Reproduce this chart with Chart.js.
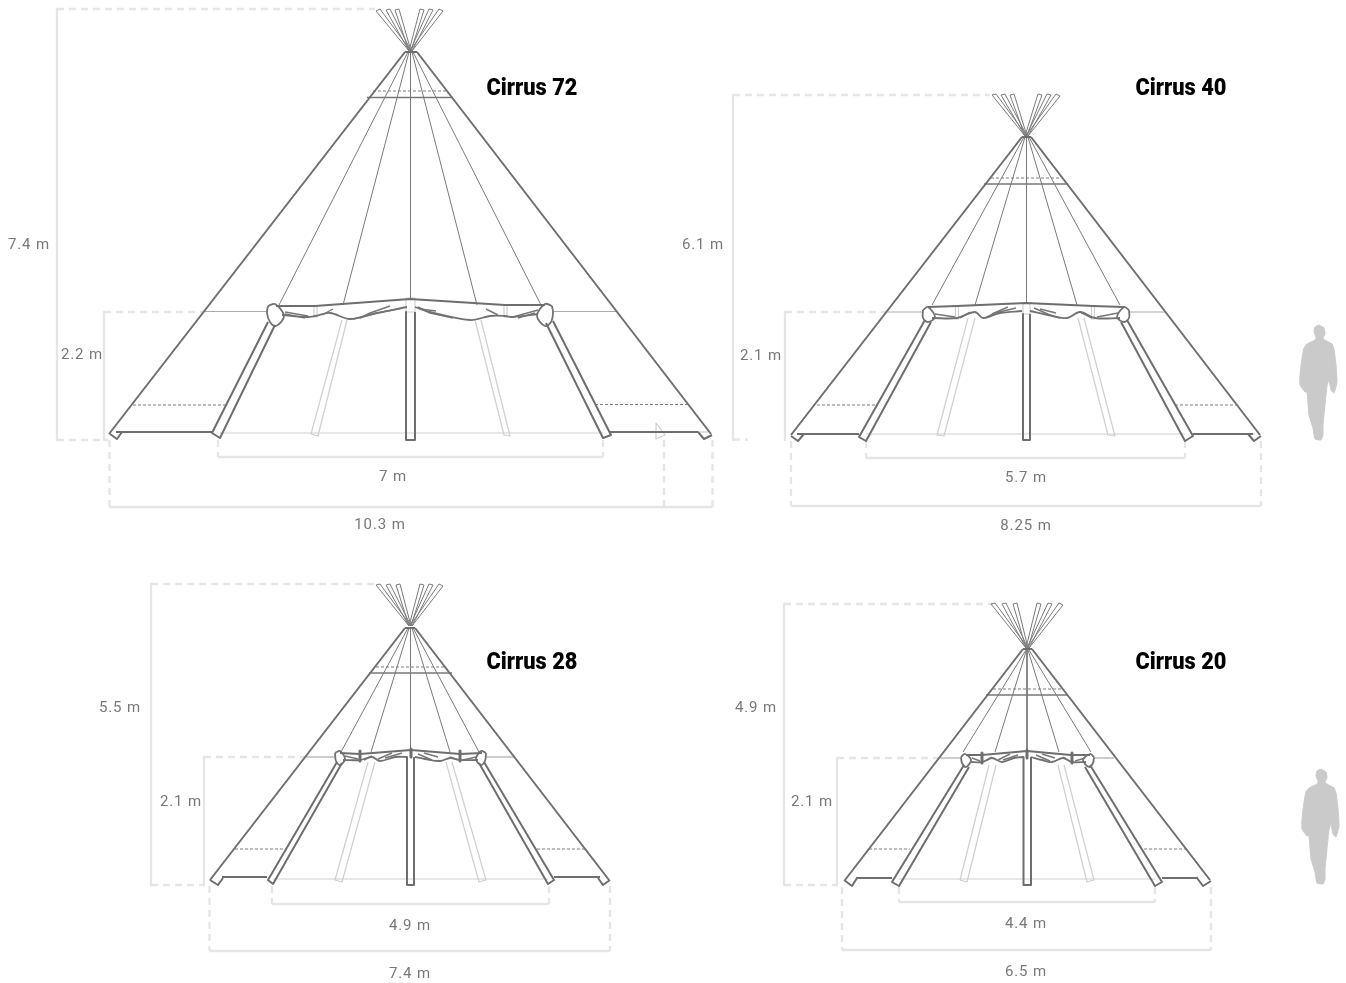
<!DOCTYPE html>
<html>
<head>
<meta charset="utf-8">
<title>Cirrus tents</title>
<script src="https://cdn.jsdelivr.net/npm/chart.js@4"></script>
<style>
html, body { margin: 0; padding: 0; background: #fff; }
canvas { display: block; }
</style>
</head>
<body>
<canvas id="canvas" width="1346" height="983"></canvas>
<script>

// labels
var titleTexts = ["Cirrus 72", "Cirrus 40", "Cirrus 28", "Cirrus 20"];
var titleX = [532, 1181, 532, 1181];
var titleY = [89, 89, 663, 663];
var labelTexts = ["7.4 m", "2.2 m", "7 m", "10.3 m", "6.1 m", "2.1 m", "5.7 m", "8.25 m", "5.5 m", "2.1 m", "4.9 m", "7.4 m", "4.9 m", "2.1 m", "4.4 m", "6.5 m"];
var labelX = [29, 82, 393, 380, 703, 761, 1026, 1026, 120, 181, 410, 410, 756, 812, 1026, 1026];
var labelY = [245, 355, 477, 525, 245, 356, 478, 526, 708, 802, 926, 974, 708, 802, 924, 972];

// Cirrus 72
var c72Outline = [
  [405,52,417,52], [405,52,109,434], [417,52,711,434],
  [116,432,212,432], [610,432,698,432],
  [110,434,117,439,122,432], [698,432,704,439,712,435],
  [268,322,212,433,220,438,275,325], [546,323,603,438,611,435,553,321],
  [406,312,406,440,415,440,415,312],
  [276,306,315,306,410,299,505,305,545,305]
];
var c72Curves = [
  [282,315,307,317,315,316,330,313,350,319,377,313,407,307],
  [415,307,430,312,470,320,490,316,505,316,513,317,538,314],
  [268,306,275,304,284,316,276,326,270,322,267,313,268,306],
  [552,306,545,304,537,316,545,326,551,322,553,313,552,306]
];
var c72Folds = [
  [367,97.5,453,97.5],
  [285,312,308,316], [285,314,305,318], [333,309,322,315], [403,308,377,313,353,319], [390,306,370,313,360,318],
  [418,307,430,313,453,318], [420,309,436,311], [486,309,498,315], [513,317,538,310], [518,318,535,313]
];
var c72Thin = [
  [409,51,376,11,380,9,411,51], [409,51,386,10,390,9,411,51], [409,51,395,10,399,9,411,51],
  [409,51,420,9,424,10,411,51], [410,51,429,9,433,10,412,51], [410,51,439,9,443,11,412,51],
  [408,52,279,305], [409,52,343,305], [410.5,52,410.5,298], [412,52,477,305], [413,52,541,305]
];
var c72Grey = [[205,311.5,268,311.5], [553,311.5,617,311.5]];
var c72Light = [
  [220,433,603,433], [698,432,708,432],
  [342,320,311,434,318,436,347,320], [475,320,504,435,510,436,481,320],
  [314,305,314,317,317,317,317,305], [504,305,504,317,507,317,507,305],
  [406,298,415,298,415,312,406,312,406,298], [656,423,656,439,665,435,656,423]
];
var c72Dash = [[373,91,448,91], [133,405,226,405], [595,404.5,688,404.5]];
var c72Guides = [
  [57,9,57,440], [104,312,104,440], [218,457,603,457], [109.5,507,712.5,507]
];
var c72GuideDash = [
  [57,9,375,9], [57,440,108,440], [104,312,205,312],
  [218,440,218,457], [603,440,603,457], [109.5,440,109.5,507], [664,440,664,507], [712.5,440,712.5,507]
];

// Cirrus 40
var c40Outline = [
  [1022,137,1031,137], [1022,137,791,435], [1031,137,1260,435],
  [797,434,859,434], [1193,434,1253,434],
  [791,436,798,441,804,434], [1248,434,1254,441,1261,436],
  [925,320,859,437,866,441,931,322], [1121,322,1185,441,1193,436,1127,320],
  [1023,314,1023,440,1030,440,1030,314],
  [928,307,957,306,1026,303,1093,306,1124,307]
];
var c40Curves = [
  [932,318,957,318,975,312,983,318,1000,313,1022,311],
  [1030,311,1048,315,1067,318,1080,312,1095,318,1120,318],
  [923,310,928,307,935,317,928,322,923,318,923,310],
  [1129,310,1124,307,1117,317,1124,322,1129,318,1129,310]
];
var c40Folds = [
  [984,184,1068,184],
  [935,314,955,317], [970,312,960,318], [1016,308,995,313,985,318], [1008,307,992,314],
  [1034,308,1050,315,1060,318], [1040,309,1056,313], [1080,312,1092,318], [1097,317,1118,313]
];
var c40Thin = [
  [1025,136,992,95,996,94,1027,136], [1025,136,1001,95,1005,94,1027,136], [1025,136,1010,95,1014,94,1027,136],
  [1025,136,1038,94,1042,95,1027,136], [1026,136,1047,94,1051,95,1028,136], [1026,136,1056,94,1060,96,1028,136],
  [1024,137,932,305], [1025,137,975,305], [1026.5,137,1026.5,303], [1028,137,1077,305], [1029,137,1120,305]
];
var c40Grey = [[888,312,923,312], [1129,312,1166,312]];
var c40Light = [
  [866,434,1185,434], [1248,434,1255,434],
  [968,318,937,435,944,436,975,318], [1078,318,1108,435,1115,436,1084,318],
  [955.5,306,955.5,319,958.5,319,958.5,306], [1091.5,306,1091.5,319,1094.5,319,1094.5,306],
  [1023,303,1030,303,1030,314,1023,314,1023,303]
];
var c40Dash = [[991,178,1061,178], [817,405,878,405], [1175,405,1236,405]];
var c40Guides = [
  [733,95,733,440], [785,312,785,440], [866,458,1185,458], [791,506,1261,506]
];
var c40GuideDash = [
  [733,95,990,95], [733,439.5,748,439.5], [785,312,888,312],
  [866,441,866,458], [1185,441,1185,458], [791,441,791,506], [1261,441,1261,506]
];

// Cirrus 28
var c28Outline = [
  [405,628,415,628], [405,628,210,880], [415,628,609,880],
  [222,877,267,877], [554,877,600,877],
  [210,880,218,885,223,878], [598,878,603,885,610,880],
  [337,762,268,880,273,884,342,763], [479,763,548,884,554,880,484,762],
  [407,757,407,885,414,885,414,757],
  [340,753,360,754,411,750,460,754,482,753]
];
var c28Curves = [
  [343,760,360,760,372,757,380,761,395,757,407,757],
  [415,757,425,759,440,761,450,758,460,760,478,760],
  [335,753,340,751,345,759,340,765,336,761,335,753],
  [486,753,481,751,476,759,481,765,485,761,486,753]
];
var c28Folds = [
  [369,673,452,673],
  [345,756,358,759], [372,756,364,760], [402,753,385,758], [392,753,378,759],
  [418,754,432,760], [424,753,438,757], [450,757,458,760], [463,760,476,757]
];
var c28Thick = [[360,751,360,761], [460,751,460,761], [411,749,411,757]];
var c28Thin = [
  [409,626,376,585,380,584,411,626], [409,626,386,585,390,584,411,626], [409,626,396,585,400,584,411,626],
  [409,626,420,584,424,585,411,626], [410,626,429,584,433,585,412,626], [410,626,439,584,443,586,412,626],
  [408,628,341,752], [409,628,371,752], [410.5,628,410.5,749], [412,628,450,752], [413,628,479,752]
];
var c28Grey = [[305,757,336,757], [485,757,515,757]];
var c28Light = [
  [273,879,548,879],
  [368,762,335,880,342,882,375,762], [446,762,479,882,486,880,452,762]
];
var c28Dash = [[376,667,445,667], [235,849,283,849], [537,849,586,849]];
var c28Guides = [
  [151,584,151,885], [204,757,204,885], [272,904,549,904], [209.5,951,610,951]
];
var c28GuideDash = [
  [151,584,378,584], [151,885,205,885], [204,757,305,757],
  [272,886,272,904], [549,886,549,904], [209.5,886,209.5,951], [610,886,610,951]
];

// Cirrus 20
var c20Outline = [
  [1023,649,1032,649], [1023,649,845,880], [1032,649,1210,880],
  [856,878,892,878], [1162,878,1198,878],
  [844,880,852,886,857,878], [1197,878,1203,886,1211,881],
  [964,765,892,882,899,886,969,767], [1085,767,1155,886,1162,882,1090,765],
  [1023.5,757,1023.5,885,1031,885,1031,757],
  [966,755,982,755,1027,751,1071,755,1090,755]
];
var c20Curves = [
  [970,762,982,762,992,758,1002,762,1014,758,1023,757],
  [1031,757,1042,760,1052,762,1063,758,1072,762,1086,762],
  [961,757,965,754,971,760,966,767,962,763,961,757],
  [1094,757,1090,754,1083,760,1089,767,1093,763,1094,757]
];
var c20Folds = [
  [986,695,1068,695],
  [972,758,980,761], [992,757,986,761], [1018,755,1003,760], [1010,754,998,760],
  [1036,755,1050,761], [1042,754,1055,758], [1063,757,1069,761], [1075,761,1085,758]
];
var c20Thick = [[982,753,982,763], [1072,753,1072,763], [1027,750,1027,758]];
var c20Thin = [
  [1026,648,991,604,995,603,1028,648], [1026,648,1002,604,1006,603,1028,648], [1026,648,1013,604,1017,603,1028,648],
  [1026,648,1037,603,1041,604,1028,648], [1027,648,1048,603,1052,604,1029,648], [1027,648,1059,603,1063,605,1029,648],
  [1026,650,963,752], [1026.5,650,995,752], [1027,650,1027,750], [1028,650,1059,752], [1029,650,1091,752]
];
var c20Grey = [[940,758,962,758], [1094,758,1114,758]];
var c20Light = [
  [899,879,1155,879],
  [989,765,960,880,967,882,996,765], [1058,765,1087,882,1094,880,1064,765]
];
var c20Dash = [[993,689,1061,689], [869,849,910,849], [1144,849,1186,849]];
var c20Guides = [
  [784,604,784,885], [837,758,837,885], [899,902,1155,902], [842,950,1211,950]
];
var c20GuideDash = [
  [784,604,993,604], [784,885,838,885], [837,758,940,758],
  [899,887,899,902], [1155,887,1155,902], [842,887,842,950], [1211,887,1211,950]
];

// people
var person1 = [1319,325,1324,328,1325,334,1323,338,1325,340,1332,344,1334,349,1336,365,1337,382,1334,393,1331,390,1329,380,1327,386,1325,405,1323,425,1323,435,1321,440,1315,439,1313,428,1309,415,1307,392,1305,392,1300,385,1300,375,1302,358,1304,348,1307,344,1315,340,1316,337,1314,332,1315,327,1319,325];
var person2 = [1321,769,1326,772,1327,778,1325,782,1327,784,1334,788,1336,793,1338,809,1339,826,1336,837,1333,834,1331,824,1329,830,1327,849,1325,869,1325,879,1323,884,1317,883,1315,872,1311,859,1309,836,1307,836,1302,829,1302,819,1304,802,1306,792,1309,788,1317,784,1318,781,1316,776,1317,771,1321,769];

var styles = {
  outline: { borderColor: "#6e6e6e", borderWidth: 2 },
  curve: { borderColor: "#727272", borderWidth: 1.8, tension: 0.35 },
  folds: { borderColor: "#777777", borderWidth: 1.4 },
  thick: { borderColor: "#6e6e6e", borderWidth: 3 },
  thin: { borderColor: "#7a7a7a", borderWidth: 1 },
  grey: { borderColor: "#ababab", borderWidth: 1.2 },
  light: { borderColor: "#cfcfcf", borderWidth: 1.2 },
  dash: { borderColor: "#7d7d7d", borderWidth: 1, borderDash: [3, 2] },
  guide: { borderColor: "#e3e6e5", borderWidth: 2.3 },
  guideDash: { borderColor: "#e3e6e5", borderWidth: 2.3, borderDash: [7, 5] }
};

function toPoints(flat) {
  var pts = [];
  for (var i = 0; i < flat.length; i += 2) {
    pts.push({ x: flat[i], y: flat[i + 1] });
  }
  return pts;
}

var datasets = [];
function addLines(lines, styleName) {
  lines.forEach(function (line) {
    var style = styles[styleName];
    datasets.push({
      data: toPoints(line),
      showLine: true,
      fill: false,
      pointRadius: 0,
      tension: style.tension || 0,
      borderColor: style.borderColor,
      borderWidth: style.borderWidth,
      borderDash: style.borderDash || [],
      borderJoinStyle: "round"
    });
  });
}

// chart.js draws the first dataset on top, so the pale stuff goes last
[
  [c72Outline, c72Curves, c72Folds, c72Thin, c72Grey, c72Light, c72Dash, c72Guides, c72GuideDash, []],
  [c40Outline, c40Curves, c40Folds, c40Thin, c40Grey, c40Light, c40Dash, c40Guides, c40GuideDash, []],
  [c28Outline, c28Curves, c28Folds, c28Thin, c28Grey, c28Light, c28Dash, c28Guides, c28GuideDash, c28Thick],
  [c20Outline, c20Curves, c20Folds, c20Thin, c20Grey, c20Light, c20Dash, c20Guides, c20GuideDash, c20Thick]
].forEach(function (t) {
  addLines(t[9], "thick");
  addLines(t[0], "outline");
  addLines(t[1], "curve");
  addLines(t[2], "folds");
  addLines(t[3], "thin");
  addLines(t[4], "grey");
  addLines(t[5], "light");
  addLines(t[6], "dash");
  addLines(t[7], "guide");
  addLines(t[8], "guideDash");
});

[person1, person2].forEach(function (p) {
  datasets.push({
    data: toPoints(p),
    showLine: true,
    fill: "shape",
    backgroundColor: "#c9cac9",
    borderColor: "#c9cac9",
    borderWidth: 1,
    pointRadius: 0,
    tension: 0.15
  });
});

var textPlugin = {
  id: "textLabels",
  afterDatasetsDraw: function (chart) {
    var ctx = chart.ctx;
    var x = chart.scales.x;
    var y = chart.scales.y;
    ctx.save();
    ctx.textAlign = "center";
    ctx.textBaseline = "middle";
    ctx.fillStyle = "#787878";
    ctx.font = "15px Roboto";
    ctx.letterSpacing = "0.9px";
    labelTexts.forEach(function (t, i) {
      ctx.fillText(t, x.getPixelForValue(labelX[i]), y.getPixelForValue(labelY[i]));
    });
    // title face is a heavy condensed one, none installed so squeeze Roboto Black
    ctx.fillStyle = "#000";
    ctx.font = "900 24px Roboto";
    ctx.letterSpacing = "0px";
    titleTexts.forEach(function (t, i) {
      var squeeze = 91 / ctx.measureText(t).width;
      ctx.save();
      ctx.translate(x.getPixelForValue(titleX[i]), y.getPixelForValue(titleY[i]));
      ctx.scale(squeeze, 1);
      ctx.fillText(t, 0, 0);
      ctx.restore();
    });
    ctx.restore();
  }
};

var config = {
  type: "scatter",
  data: { datasets: datasets },
  options: {
    responsive: false,
    animation: false,
    layout: { padding: 0 },
    plugins: { legend: { display: false }, tooltip: { enabled: false } },
    scales: {
      x: { type: "linear", min: 0, max: 1346, display: false },
      y: { type: "linear", min: 0, max: 983, reverse: true, display: false }
    }
  },
  plugins: [textPlugin]
};

window.myChart = new Chart(document.getElementById("canvas").getContext("2d"), config);
</script>
</body>
</html>
